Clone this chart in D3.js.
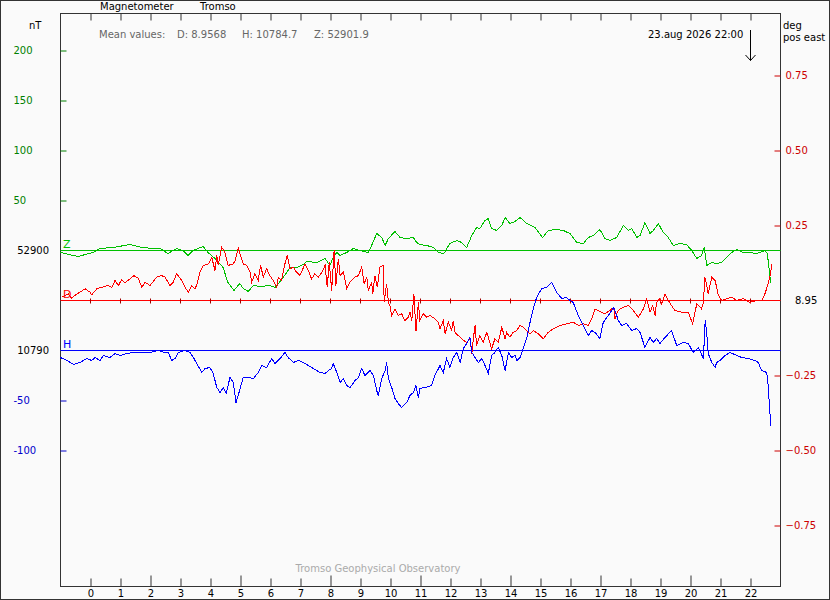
<!DOCTYPE html>
<html>
<head>
<meta charset="utf-8">
<style>
body { margin: 0; background: #fafafa; }
text { font-family: "DejaVu Sans", sans-serif; font-size: 10px; }
</style>
<script src="https://cdn.jsdelivr.net/npm/d3@7/dist/d3.min.js"></script>
</head>
<body>
<svg width="830" height="600"></svg>
<script>
// baselines (left axis nT, right axis deg)
var zBase = 52900, dBase = 8.95, hBase = 10790;
var meanLabels = ["D: 8.9568", "H: 10784.7", "Z: 52901.9"];
var hourTicks = d3.range(0, 23);
var zTicks = [50, 100, 150, 200];
var hTicks = [-50, -100];
var dTicks = [0.75, 0.50, 0.25, -0.25, -0.50, -0.75];

// Z component (nT)
var zHour = [-1.00,-0.42,0.08,0.32,0.75,1.32,1.72,2.08,2.32,2.58,2.88,3.08,3.25,3.42,3.75,3.92,4.15,4.42,4.58,4.78,4.98,5.09,5.26,5.43,5.65,5.98,6.15,6.32,6.54,6.65,6.87,7.09,7.21,7.54,7.82,7.98,8.09,8.21,8.32,8.54,8.76,8.98,9.26,9.37,9.54,9.71,9.82,9.93,10.15,10.32,10.54,10.76,10.87,10.98,11.21,11.44,11.61,11.78,11.98,12.21,12.37,12.54,12.71,12.87,12.98,13.15,13.26,13.37,13.54,13.71,13.82,13.98,14.15,14.32,14.54,14.82,15.07,15.26,15.54,15.76,15.98,16.21,16.43,16.59,16.76,16.98,17.15,17.32,17.54,17.76,17.93,18.04,18.21,18.32,18.48,18.65,18.76,18.93,19.09,19.21,19.43,19.65,19.87,20.04,20.21,20.37,20.46,20.54,20.71,20.87,21.04,21.21,21.37,21.54,21.76,21.98,22.21,22.48,22.56,22.62,22.67];
var zValue = [52898,52894,52898,52902,52903,52906,52903,52902,52902,52897,52902,52900,52895,52900,52904,52898,52892,52883,52868,52860,52867,52862,52859,52865,52864,52865,52863,52869,52878,52883,52883,52886,52889,52888,52892,52885,52893,52898,52895,52898,52902,52900,52898,52905,52917,52913,52905,52912,52919,52913,52912,52913,52908,52906,52905,52903,52898,52897,52907,52910,52908,52903,52915,52923,52922,52930,52932,52922,52920,52925,52933,52927,52929,52933,52927,52923,52913,52920,52921,52920,52917,52908,52907,52913,52915,52921,52912,52910,52913,52925,52920,52922,52913,52915,52928,52917,52920,52927,52918,52915,52905,52907,52906,52900,52892,52895,52903,52885,52888,52887,52888,52893,52898,52901,52898,52898,52897,52900,52897,52882,52868];

// D component (deg)
var dHour = [-0.96,-0.74,-0.63,-0.52,-0.35,-0.18,-0.02,0.04,0.21,0.37,0.59,0.71,0.82,0.93,1.04,1.15,1.32,1.45,1.59,1.71,1.82,1.98,2.21,2.37,2.48,2.65,2.76,2.87,3.04,3.15,3.26,3.37,3.48,3.54,3.65,3.76,3.93,4.04,4.15,4.21,4.26,4.37,4.48,4.59,4.76,4.82,4.93,4.98,5.09,5.21,5.32,5.37,5.48,5.59,5.67,5.76,5.87,5.98,6.09,6.21,6.26,6.37,6.48,6.56,6.65,6.76,6.87,6.98,7.15,7.26,7.37,7.48,7.59,7.71,7.82,7.89,7.96,8.04,8.12,8.18,8.26,8.32,8.43,8.54,8.65,8.82,8.93,9.04,9.12,9.21,9.26,9.37,9.41,9.48,9.56,9.65,9.76,9.79,9.87,9.93,9.98,10.04,10.15,10.26,10.37,10.48,10.59,10.65,10.71,10.78,10.85,10.93,10.98,11.09,11.21,11.32,11.48,11.59,11.65,11.76,11.82,11.93,12.04,12.09,12.15,12.26,12.43,12.54,12.65,12.71,12.76,12.82,12.87,12.98,13.09,13.21,13.26,13.37,13.48,13.59,13.71,13.82,13.87,13.98,14.09,14.21,14.32,14.43,14.54,14.65,14.76,14.93,15.09,15.26,15.43,15.65,15.87,16.09,16.26,16.43,16.59,16.71,16.82,16.98,17.15,17.32,17.44,17.48,17.59,17.76,17.93,18.09,18.26,18.43,18.54,18.65,18.74,18.82,18.87,18.98,19.04,19.15,19.26,19.37,19.48,19.71,19.93,20.07,20.21,20.37,20.43,20.48,20.54,20.59,20.71,20.82,20.93,21.04,21.21,21.37,21.54,21.76,21.98,22.21,22.37,22.48,22.59,22.67,22.71];
var dValue = [8.961,8.972,8.958,8.967,8.978,8.989,8.978,8.969,8.989,8.994,9.000,8.994,9.017,9.000,9.020,9.009,9.022,9.033,9.024,8.994,9.011,9.000,9.028,9.033,9.028,9.000,9.011,9.039,9.017,8.994,8.978,9.000,8.989,9.002,9.044,9.067,9.072,9.094,9.050,9.100,9.067,9.128,9.111,9.067,9.072,9.083,9.128,9.106,9.072,9.067,9.044,9.011,9.039,9.017,9.067,9.028,9.056,9.033,9.017,8.994,9.028,9.017,9.072,9.100,9.056,9.061,9.044,9.033,9.072,9.050,9.022,9.039,9.028,9.044,9.067,8.994,9.078,8.983,9.117,9.000,9.089,9.033,9.044,8.989,9.011,9.028,9.033,9.061,9.006,9.028,8.983,9.011,8.972,9.033,8.994,9.061,9.067,8.944,9.006,8.944,8.933,8.900,8.922,8.900,8.906,8.883,8.894,8.911,8.883,8.972,8.847,8.944,8.883,8.906,8.894,8.900,8.889,8.878,8.856,8.883,8.839,8.878,8.850,8.883,8.844,8.833,8.817,8.811,8.822,8.772,8.822,8.867,8.800,8.833,8.811,8.844,8.828,8.789,8.822,8.811,8.861,8.822,8.844,8.828,8.844,8.850,8.867,8.861,8.850,8.839,8.850,8.839,8.822,8.844,8.856,8.867,8.872,8.878,8.867,8.872,8.867,8.889,8.922,8.913,8.906,8.917,8.928,8.889,8.917,8.928,8.933,8.917,8.894,8.922,8.956,8.911,8.933,8.900,8.944,8.956,8.939,8.972,8.950,8.933,8.917,8.911,8.911,8.872,8.939,8.922,8.944,9.028,9.000,8.972,9.028,9.017,8.967,8.950,8.956,8.961,8.950,8.956,8.944,8.950,8.950,8.972,9.006,9.039,9.072];

// H component (nT)
var hHour = [-1.00,-0.79,-0.56,-0.35,-0.13,0.04,0.15,0.32,0.43,0.65,0.82,0.98,1.21,1.43,1.65,1.98,2.26,2.48,2.59,2.71,2.82,2.93,3.15,3.32,3.43,3.54,3.71,3.82,3.98,4.09,4.21,4.32,4.43,4.52,4.65,4.76,4.85,4.98,5.09,5.26,5.43,5.59,5.71,5.87,6.04,6.15,6.32,6.48,6.59,6.76,6.93,7.09,7.26,7.43,7.65,7.82,7.93,8.04,8.09,8.21,8.32,8.43,8.54,8.65,8.82,8.93,9.04,9.15,9.32,9.43,9.54,9.59,9.71,9.82,9.87,9.93,10.04,10.15,10.26,10.37,10.54,10.65,10.76,10.85,10.93,10.98,11.15,11.37,11.48,11.65,11.76,11.87,11.98,12.09,12.21,12.32,12.43,12.54,12.65,12.71,12.82,12.93,13.04,13.15,13.26,13.37,13.48,13.59,13.71,13.82,13.93,14.04,14.15,14.21,14.32,14.43,14.54,14.65,14.76,14.87,15.04,15.21,15.37,15.54,15.71,15.87,15.98,16.09,16.26,16.43,16.59,16.71,16.82,16.98,17.09,17.26,17.44,17.54,17.59,17.71,17.87,18.04,18.21,18.32,18.48,18.65,18.76,18.87,18.98,19.15,19.37,19.54,19.76,19.93,20.09,20.26,20.43,20.49,20.54,20.59,20.71,20.82,20.87,20.98,21.15,21.32,21.54,21.71,21.93,22.15,22.26,22.37,22.54,22.59,22.63,22.68];
var hValue = [10783,10780,10776,10778,10782,10780,10783,10780,10785,10783,10787,10785,10787,10788,10788,10788,10790,10788,10788,10780,10782,10788,10790,10788,10783,10777,10768,10772,10773,10767,10753,10748,10753,10747,10763,10758,10738,10751,10763,10763,10762,10768,10775,10773,10782,10777,10782,10788,10783,10778,10780,10778,10775,10772,10768,10767,10770,10772,10777,10768,10758,10762,10755,10753,10760,10763,10772,10765,10770,10765,10750,10745,10762,10770,10778,10762,10753,10742,10737,10733,10738,10745,10748,10755,10743,10752,10753,10755,10765,10775,10768,10782,10773,10783,10788,10778,10792,10797,10803,10788,10783,10778,10782,10775,10767,10785,10788,10793,10785,10770,10788,10783,10785,10780,10783,10793,10802,10818,10832,10843,10852,10853,10858,10848,10842,10843,10840,10838,10825,10815,10805,10810,10808,10802,10818,10825,10833,10825,10820,10815,10817,10810,10812,10808,10793,10803,10798,10802,10797,10803,10810,10795,10798,10797,10788,10793,10782,10820,10808,10787,10778,10773,10778,10780,10785,10788,10785,10783,10782,10780,10778,10770,10768,10755,10735,10715];

var zColor = "#00c000", dColor = "#ff0000", hColor = "#0000ff";
var zText = "#008000", dText = "#cc0000", hText = "#0000cc";

var svg = d3.select("svg");

svg.append("rect")
  .attr("x", 0.5).attr("y", 0.5).attr("width", 829).attr("height", 599)
  .attr("fill", "#fafafa").attr("stroke", "#333");

var x = d3.scaleLinear().domain([-1, 23]).range([60.5, 780.5]);
var yZ = d3.scaleLinear().domain([zBase, zBase + 100]).range([250.5, 150.5]);
var yD = d3.scaleLinear().domain([dBase, dBase + 0.25]).range([300.5, 225.5]);
var yH = d3.scaleLinear().domain([hBase, hBase - 100]).range([350.5, 450.5]);

// frame
svg.append("rect")
  .attr("x", 60.5).attr("y", 13.5).attr("width", 720).attr("height", 573)
  .attr("fill", "none").attr("stroke", "#333").attr("shape-rendering", "crispEdges");

// top ticks
svg.append("g")
  .attr("transform", "translate(0,13.5)")
  .call(d3.axisTop(x).tickValues(hourTicks).tickSize(-7).tickFormat(""))
  .call(g => g.select(".domain").remove())
  .selectAll("line").attr("stroke", "#333");

// bottom axis
var xAxis = svg.append("g")
  .attr("transform", "translate(0,586.5)")
  .call(d3.axisBottom(x).tickValues(hourTicks).tickSize(-8).tickPadding(3));
xAxis.select(".domain").remove();
xAxis.selectAll("line").attr("stroke", "#333").attr("y2", d => d % 3 == 2 ? -11 : -8);
xAxis.selectAll("text").attr("fill", "#000").style("font-size", "10px").style("font-family", "DejaVu Sans");

// left axis: Z offsets
var zAxis = svg.append("g")
  .attr("transform", "translate(60.5,0)")
  .call(d3.axisLeft(yZ).tickValues(zTicks.map(d => zBase + d)).tickSize(-6).tickFormat(d => d - zBase));
zAxis.select(".domain").remove();
zAxis.selectAll("line").attr("stroke", zText);
zAxis.selectAll("text").attr("x", -47).attr("text-anchor", "start").attr("fill", zText)
  .style("font-size", "10px").style("font-family", "DejaVu Sans");

// left axis: H offsets
var hAxis = svg.append("g")
  .attr("transform", "translate(60.5,0)")
  .call(d3.axisLeft(yH).tickValues(hTicks.map(d => hBase + d)).tickSize(-6).tickFormat(d => d - hBase));
hAxis.select(".domain").remove();
hAxis.selectAll("line").attr("stroke", hText);
hAxis.selectAll("text").attr("x", -47).attr("text-anchor", "start").attr("fill", hText)
  .style("font-size", "10px").style("font-family", "DejaVu Sans");

// right axis: D offsets
var dAxis = svg.append("g")
  .attr("transform", "translate(780.5,0)")
  .call(d3.axisRight(yD).tickValues(dTicks.map(d => dBase + d)).tickSize(-6)
    .tickFormat(d => d3.format(".2f")(d - dBase)));
dAxis.select(".domain").remove();
dAxis.selectAll("line").attr("stroke", dText);
dAxis.selectAll("text").attr("x", 5).attr("fill", dText)
  .style("font-size", "10px").style("font-family", "DejaVu Sans");

// baselines
svg.append("line").attr("x1", 60.5).attr("x2", 780.5).attr("y1", yZ(zBase)).attr("y2", yZ(zBase)).attr("stroke", zColor);
svg.append("line").attr("x1", 60.5).attr("x2", 780.5).attr("y1", yD(dBase)).attr("y2", yD(dBase)).attr("stroke", dColor);
svg.append("line").attr("x1", 60.5).attr("x2", 780.5).attr("y1", yH(hBase)).attr("y2", yH(hBase)).attr("stroke", hColor);

svg.append("g").selectAll("line").data(hourTicks).join("line")
  .attr("x1", d => x(d)).attr("x2", d => x(d))
  .attr("y1", yD(dBase) - 2).attr("y2", yD(dBase) + 3)
  .attr("stroke", "#a00000");

svg.append("text").attr("x", 49).attr("y", yZ(zBase) + 3.5).attr("text-anchor", "end").text(zBase);
svg.append("text").attr("x", 49).attr("y", yH(hBase) + 3.5).attr("text-anchor", "end").text(hBase);
svg.append("text").attr("x", 795).attr("y", yD(dBase) + 3.5).text(d3.format(".2f")(dBase));

svg.append("text").attr("x", 63).attr("y", 248).attr("fill", zColor).style("font-size", "11px").text("Z");
svg.append("text").attr("x", 63).attr("y", 298).attr("fill", dColor).style("font-size", "11px").text("D");
svg.append("text").attr("x", 63).attr("y", 348).attr("fill", hColor).style("font-size", "11px").text("H");

// data traces
function trace(hours, values, yScale, color) {
  var pts = hours.map((h, i) => [h, values[i]]);
  svg.append("path")
    .datum(pts)
    .attr("fill", "none")
    .attr("stroke", color)
    .attr("stroke-width", 1)
    .attr("shape-rendering", "crispEdges")
    .attr("d", d3.line().x(d => x(d[0])).y(d => yScale(d[1])));
}
trace(zHour, zValue, yZ, zColor);
trace(dHour, dValue, yD, dColor);
trace(hHour, hValue, yH, hColor);

// header texts
svg.append("text").attr("x", 100).attr("y", 10).text("Magnetometer");
svg.append("text").attr("x", 200).attr("y", 10).text("Tromso");
svg.append("text").attr("x", 29).attr("y", 29).text("nT");
svg.append("text").attr("x", 783).attr("y", 29).text("deg");
svg.append("text").attr("x", 783).attr("y", 41).text("pos east");

svg.append("text").attr("x", 99).attr("y", 38).attr("fill", "#666").text("Mean values:");
var meanX = [177, 242, 314];
meanLabels.forEach((t, i) => {
  svg.append("text").attr("x", meanX[i]).attr("y", 38).attr("fill", "#666").text(t);
});

svg.append("text").attr("x", 648).attr("y", 38).text("23.aug 2026 22:00");
svg.append("path")
  .attr("d", "M750.5,30V60.5M745.5,55L750.5,60.5L755.5,55")
  .attr("fill", "none").attr("stroke", "#000");

svg.append("text").attr("x", 378).attr("y", 572).attr("text-anchor", "middle")
  .attr("fill", "#aaa").text("Tromso Geophysical Observatory");
</script>
</body>
</html>
